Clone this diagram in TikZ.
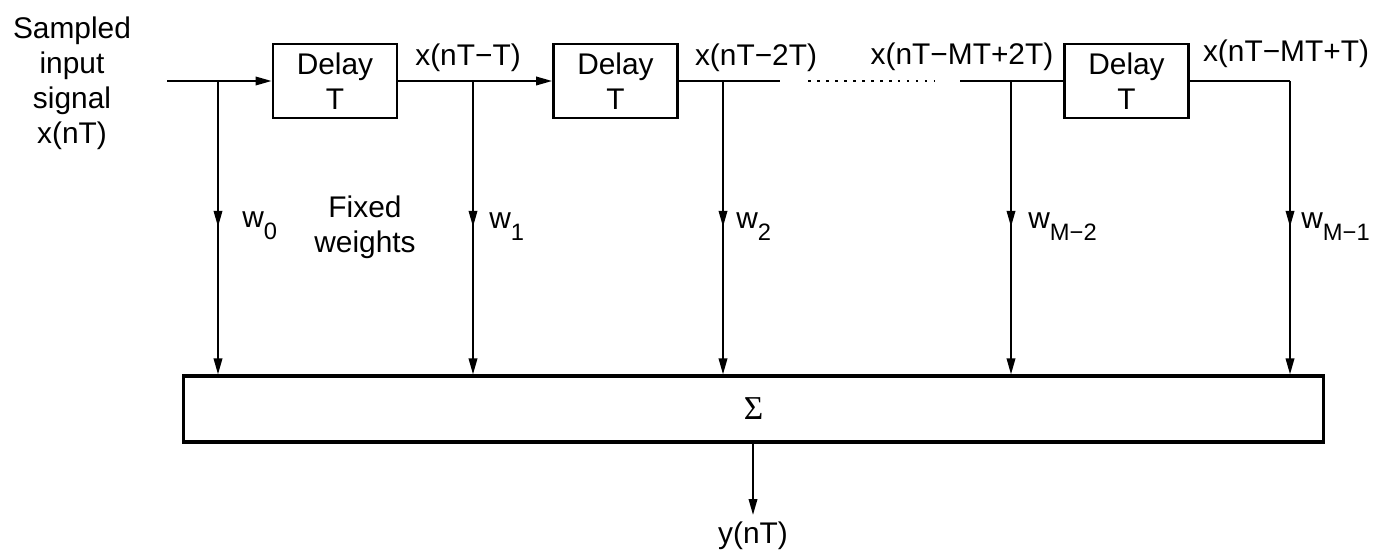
\documentclass[tikz,border=0pt]{standalone}
\usepackage{fontspec}
\setmainfont{Liberation Sans}
\newfontfamily\sigfont{Liberation Serif}
\usetikzlibrary{arrows.meta,decorations.markings}
\newcommand{\subsz}{\fontsize{13.5}{13.5}\selectfont}
\newcommand{\wlab}[1]{w\raisebox{-0.26cm}{\subsz #1}}
\begin{document}
\begin{tikzpicture}[x=0.02cm,y=-0.02cm,
  every node/.style={inner sep=0pt, font=\fontsize{17}{19.8}\selectfont},
  sig/.style={line width=1.1pt},
  tipend/.style={-{Triangle[length=0.32cm,width=0.17cm]}},
  midtip/.style={postaction={decorate}, decoration={markings,
      mark=at position #1 with {\arrow{Triangle[length=0.32cm,width=0.17cm]}}}},
  delaybox/.style={draw, line width=1.6pt, minimum width=2.48cm,
      minimum height=1.48cm, align=center},
  sumbox/.style={draw, line width=1.8pt, minimum width=22.82cm,
      minimum height=1.32cm},
  lab/.style={anchor=base},
  dots/.style={line width=1.1pt, dash pattern=on 0.05cm off 0.13cm}
]
\useasboundingbox (0,0) rectangle (1375,554);

% input label
\node[anchor=north, align=center] (inlab) at (72,17) {Sampled\\input\\signal\\x(nT)};

% delay boxes
\node[delaybox] (d1) at (335,81) {Delay\\T};
\node[delaybox] (d2) at (615.5,81) {Delay\\T};
\node[delaybox] (d3) at (1126.5,81) {Delay\\T};

% sum box
\node[sumbox] (sum) at (753.5,409) {\sigfont\fontsize{19}{19}\selectfont Σ};

% coordinates
\coordinate (in) at (167,81);
\coordinate (j0) at (218,81);
\coordinate (j1) at (473,81);
\coordinate (j2) at (723,81);
\coordinate (e2) at (780,81);
\coordinate (dotA) at (808,81);
\coordinate (dotB) at (935,81);
\coordinate (s3) at (960,81);
\coordinate (j3) at (1011,81);
\coordinate (j4) at (1290,81);
\coordinate (out) at (753,515);

% main signal line
\draw[sig, tipend] (in) -- (d1.west);
\draw[sig, tipend] (d1.east) -- (d2.west);
\draw[sig] (d2.east) -- (e2);
\draw[dots] (dotA) -- (dotB);
\draw[sig] (s3) -- (d3.west);
\draw[sig] (d3.east) -- (j4);

% weight branches
\foreach \j in {j0,j1,j2,j3,j4}{
  \draw[sig, tipend, midtip=0.497] (\j) -- (\j |- sum.north);
}

% output
\draw[sig, tipend] (sum.south -| out) -- (out);
\node[anchor=north] (ylab) at (753,521) {y(nT)};

% tap labels
\node[lab] (l1) at (468,66) {x(nT−T)};
\node[lab] (l2) at (756,66) {x(nT−2T)};
\node[lab] (l3) at (962,65) {x(nT−MT+2T)};
\node[lab] (l4) at (1286,62) {x(nT−MT+T)};

% weight labels
\node[anchor=base west] (w0) at (242,227) {\wlab{0}};
\node[anchor=base west] (w1) at (489,228) {\wlab{1}};
\node[anchor=base west] (w2) at (736,228) {\wlab{2}};
\node[anchor=base west] (w3) at (1028,228) {\wlab{M−2}};
\node[anchor=base west] (w4) at (1301,228) {\wlab{M−1}};
\node[anchor=north, align=center] (fw) at (365,196) {Fixed\\weights};
\end{tikzpicture}
\end{document}
